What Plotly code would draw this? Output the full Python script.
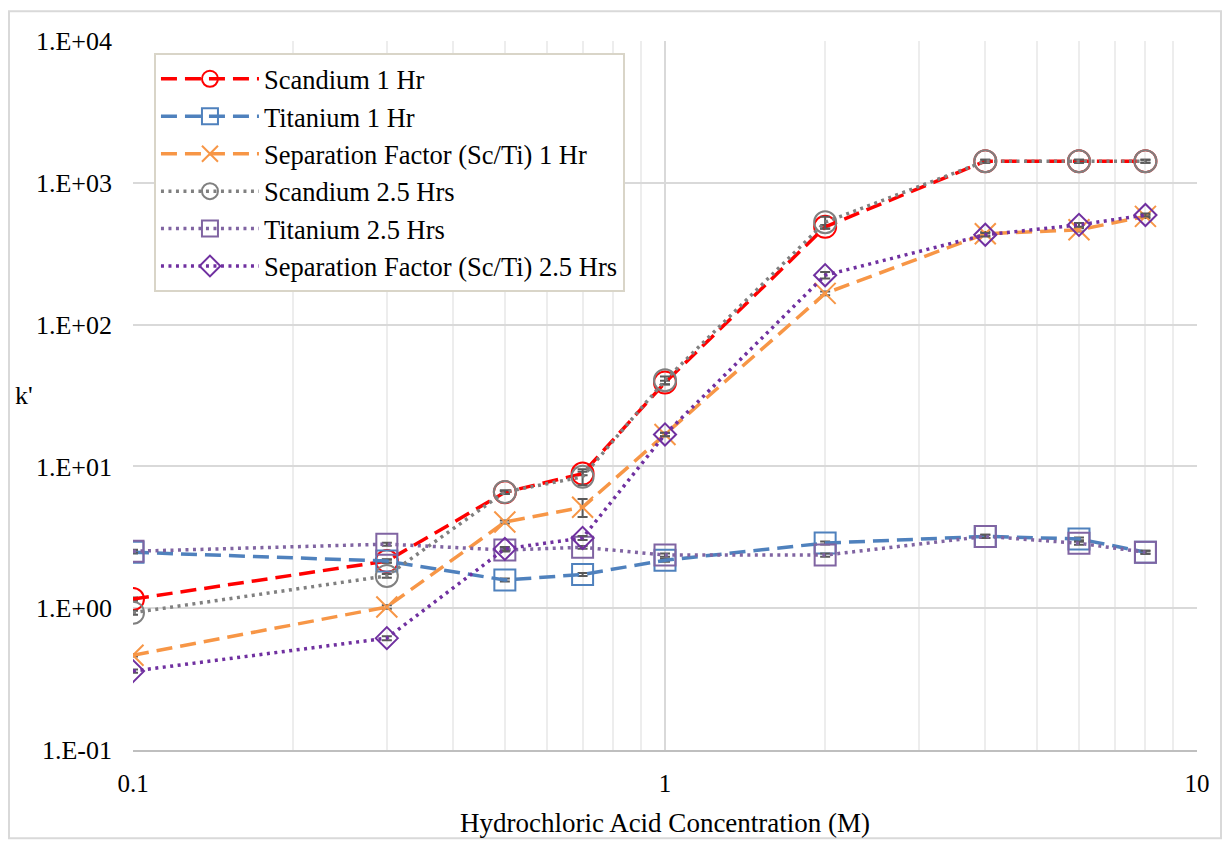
import plotly.graph_objects as go

# HCl concentration (M)
conc = [0.1, 0.3, 0.5, 0.7, 1, 2, 4, 6, 8]

# Retention factor k' and separation factor
sc_1hr = [1.16, 2.15, 6.56, 8.9, 39, 489, 1420, 1420, 1420]
ti_1hr = [2.48, 2.15, 1.58, 1.73, 2.18, 2.88, 3.21, 3.08, 2.48]
sf_1hr = [0.466, 1.02, 4.05, 5.15, 16.8, 166, 437, 466, 580]
sc_25hr = [0.93, 1.69, 6.6, 8.45, 40.5, 527, 1420, 1420, 1420]
ti_25hr = [2.52, 2.83, 2.57, 2.69, 2.37, 2.37, 3.21, 2.87, 2.48]
sf_25hr = [0.36, 0.615, 2.62, 3.13, 16.8, 223, 430, 505, 593]

# Standard deviations (error bars)
sc_1hr_err = [0.03, 0.06, 0.15, 0.25, 1.2, 15, 35, 35, 35]
ti_1hr_err = [0.05, 0.05, 0.04, 0.04, 0.05, 0.07, 0.08, 0.07, 0.06]
sf_1hr_err = [0.01, 0.03, 0.1, 0.75, 0.5, 5, 12, 12, 15]
sc_25hr_err = [0.03, 0.05, 0.2, 1.1, 2.5, 50, 35, 35, 35]
ti_25hr_err = [0.06, 0.07, 0.06, 0.06, 0.06, 0.06, 0.08, 0.07, 0.06]
sf_25hr_err = [0.01, 0.02, 0.08, 0.1, 0.5, 12, 12, 15, 15]

series = [
    ("Scandium 1 Hr", sc_1hr, sc_1hr_err, "#FF0000", "16px,8px", "circle-open", 22),
    ("Titanium 1 Hr", ti_1hr, ti_1hr_err, "#4F81BD", "16px,8px", "square-open", 21),
    ("Separation Factor (Sc/Ti) 1 Hr", sf_1hr, sf_1hr_err, "#F79646", "16px,8px", "x-thin-open", 21),
    ("Scandium 2.5 Hrs", sc_25hr, sc_25hr_err, "#808080", "3px,4.5px", "circle-open", 22),
    ("Titanium 2.5 Hrs", ti_25hr, ti_25hr_err, "#8064A2", "3px,4.5px", "square-open", 21),
    ("Separation Factor (Sc/Ti) 2.5 Hrs", sf_25hr, sf_25hr_err, "#7030A0", "3px,4.5px", "diamond-open", 17),
]

FONT = "Liberation Serif"

fig = go.Figure()
for i, (name, vals, err, color, dash, sym, size) in enumerate(series):
    fig.add_trace(go.Scatter(
        x=conc, y=vals, name=name, mode="lines+markers",
        line=dict(color=color, width=3.5, dash=dash),
        marker=dict(symbol=sym, size=size, color=color,
                    line=dict(color=color, width=2)),
        error_y=dict(type="data", array=err, visible=True,
                     color="#595959", thickness=2, width=5),
    ))

major_y = [0.1, 1, 10, 100, 1000, 10000]
major_y_text = ["1.E-01", "1.E+00", "1.E+01", "1.E+02", "1.E+03", "1.E+04"]
major_x = [0.1, 1, 10]
major_x_text = ["0.1", "1", "10"]
minor_x = [0.2, 0.3, 0.4, 0.5, 0.6, 0.7, 0.8, 0.9, 2, 3, 4, 5, 6, 7, 8, 9]

fig.update_layout(
    width=1227, height=845,
    margin=dict(l=133, r=30, t=41, b=89),
    paper_bgcolor="white", plot_bgcolor="white",
    font=dict(family=FONT, color="black", size=25),
    showlegend=True,
    legend=dict(
        x=0.0197, y=0.983, xanchor="left", yanchor="top",
        bgcolor="white", bordercolor="#D9D5C8", borderwidth=2,
        font=dict(family=FONT, size=26.5, color="black"),
        itemwidth=98, tracegroupgap=0,
    ),
    xaxis=dict(
        type="log", range=[-1, 1],
        tickmode="array", tickvals=major_x, ticktext=major_x_text,
        showgrid=True, gridcolor="#D9D9D9", gridwidth=2,
        minor=dict(tickmode="array", tickvals=minor_x, showgrid=True,
                   gridcolor="#EDEDED", gridwidth=2),
        showline=True, linecolor="#BFBFBF", linewidth=2,
        ticks="", ticklabelstandoff=10,
        tickfont=dict(family=FONT, size=25),
        zeroline=False,
        title=dict(text="Hydrochloric Acid Concentration (M)",
                   font=dict(family=FONT, size=27), standoff=17),
    ),
    yaxis=dict(
        type="log", range=[-1, 4],
        tickmode="array", tickvals=major_y, ticktext=major_y_text,
        showgrid=True, gridcolor="#D9D9D9", gridwidth=2,
        showline=False, ticks="", ticklabelstandoff=20,
        tickfont=dict(family=FONT, size=26),
        zeroline=False,
    ),
    annotations=[dict(
        text="k'", xref="paper", yref="paper", x=-0.1024, y=0.5,
        xanchor="center", yanchor="middle", showarrow=False,
        font=dict(family=FONT, size=26, color="black"),
    )],
    shapes=[dict(
        type="rect", xref="paper", yref="paper",
        x0=(9 - 133) / 1064, x1=(1221 - 133) / 1064,
        y0=(756 - 845) / 715, y1=(756 - 11) / 715,
        line=dict(color="#D9D9D9", width=2), layer="below",
    )],
)

fig.write_html("out.html")
